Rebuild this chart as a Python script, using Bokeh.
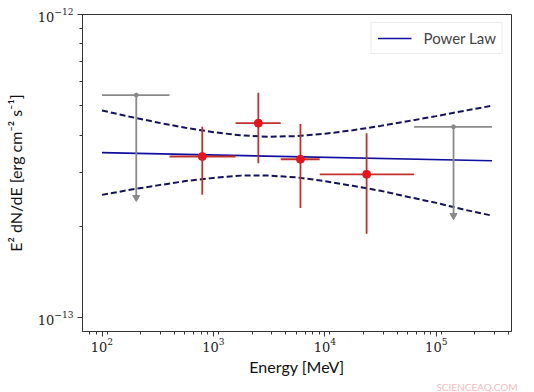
import numpy as np
from bokeh.plotting import figure
from bokeh.models import Range1d, Legend, LegendItem, Title, LogTicker, FixedTicker, LogTickFormatter
from bokeh.embed import file_html
from bokeh.resources import INLINE

# ---- data ----
# spectral points
pt_energy = [794, 2530, 6040, 23700]
pt_flux = [3.40e-13, 4.38e-13, 3.33e-13, 2.97e-13]
pt_e_lo = [404, 1581, 4018, 8990]
pt_e_hi = [1581, 4018, 8990, 63200]
pt_f_lo = [2.54e-13, 3.23e-13, 2.30e-13, 1.89e-13]
pt_f_hi = [4.26e-13, 5.52e-13, 4.35e-13, 4.06e-13]

# upper limits
ul_energy = [203, 142800]
ul_flux = [5.42e-13, 4.26e-13]
ul_e_lo = [100, 63200]
ul_e_hi = [404, 316000]
ul_tip = [2.49e-13, 2.17e-13]

# power-law model line
pl_energy = [100, 316228]
pl_flux = [3.50e-13, 3.29e-13]

# butterfly (model uncertainty band edges)
bf_energy = [100, 178, 316, 562, 1000, 1778, 3162, 5623, 10000, 17783,
             31623, 56234, 100000, 177828, 316228]
bf_upper = [4.82e-13, 4.60e-13, 4.40e-13, 4.23e-13, 4.09e-13, 3.99e-13,
            3.95e-13, 3.97e-13, 4.04e-13, 4.15e-13, 4.29e-13, 4.45e-13,
            4.62e-13, 4.81e-13, 5.00e-13]
bf_lower = [2.54e-13, 2.64e-13, 2.73e-13, 2.82e-13, 2.89e-13, 2.94e-13,
            2.94e-13, 2.90e-13, 2.82e-13, 2.72e-13, 2.62e-13, 2.50e-13,
            2.39e-13, 2.27e-13, 2.17e-13]

y_major = [1e-13, 1e-12]
y_minor = [2e-13, 3e-13, 4e-13, 5e-13, 6e-13, 7e-13, 8e-13, 9e-13]

legend_label = "Power Law"
x_title = "Energy [MeV]"
y_title = "E\u00b2 dN/dE [erg cm\u207b\u00b2 s\u207b\u00b9]"
watermark = "SCIENCEAQ.COM"

# ---- figure ----
p = figure(width=534, height=392, x_axis_type="log", y_axis_type="log",
           output_backend="svg", toolbar_location=None,
           min_border_left=82, min_border_right=23,
           min_border_top=14, min_border_bottom=60)
p.x_range = Range1d(10 ** 1.825, 10 ** 5.675)
p.y_range = Range1d(10 ** -13.046, 1e-12)

p.xgrid.visible = False
p.ygrid.visible = False
p.outline_line_color = "#333333"
p.outline_line_width = 1
p.background_fill_color = "white"
p.border_fill_color = "white"

serif = "DejaVu Serif"
sans = "Lato"
for ax in (p.xaxis[0], p.yaxis[0]):
    ax.axis_line_color = "#333333"
    ax.major_tick_line_color = "#333333"
    ax.minor_tick_line_color = "#333333"
    ax.major_tick_out = 5
    ax.major_tick_in = 0
    ax.minor_tick_out = 3
    ax.minor_tick_in = 0
    ax.major_label_text_font = serif
    ax.major_label_text_font_size = "13px"
    ax.major_label_text_color = "#222222"
    ax.axis_label_text_font = sans
    ax.axis_label_text_font_size = "16px"
    ax.axis_label_text_font_style = "normal"
    ax.axis_label_text_color = "#111111"

p.xaxis.ticker = LogTicker(num_minor_ticks=9)
p.yaxis.ticker = FixedTicker(ticks=y_major, minor_ticks=y_minor)
p.yaxis.formatter = LogTickFormatter()
p.xaxis.axis_label = x_title
p.yaxis.axis_label = y_title
p.xaxis.major_label_standoff = 1
p.xaxis.axis_label_standoff = 2
p.yaxis.major_label_standoff = 4
p.yaxis.axis_label_standoff = 10

# butterfly
navy = "#12125e"
p.line(bf_energy, bf_upper, line_color=navy, line_width=2, line_dash="6 3")
p.line(bf_energy, bf_lower, line_color=navy, line_width=2, line_dash="6 3")

# power law
pl = p.line(pl_energy, pl_flux, line_color="#0f0fa0", line_width=1.6)

# upper limits
gray = "#8a8a8a"
p.segment(x0=ul_e_lo, y0=ul_flux, x1=ul_e_hi, y1=ul_flux, line_color=gray, line_width=1.8)
p.segment(x0=ul_energy, y0=ul_flux, x1=ul_energy, y1=ul_tip, line_color=gray, line_width=1.8)
p.scatter(ul_energy, ul_tip, marker="inverted_triangle", size=7, fill_color=gray, line_color=gray)
p.scatter(ul_energy, ul_flux, marker="circle", size=4, fill_color=gray, line_color=gray)

# spectral points
ebar = "#c2302e"
p.segment(x0=pt_e_lo, y0=pt_flux, x1=pt_e_hi, y1=pt_flux, line_color=ebar, line_width=1.8)
p.segment(x0=pt_energy, y0=pt_f_lo, x1=pt_energy, y1=pt_f_hi, line_color=ebar, line_width=1.8)
p.scatter(pt_energy, pt_flux, marker="circle", size=8, fill_color="#e8141b", line_color="#e8141b")

legend = Legend(items=[LegendItem(label=legend_label, renderers=[pl])],
                location="top_right", margin=8, padding=6, spacing=0,
                glyph_width=34, glyph_height=16,
                label_text_font=sans, label_text_font_size="15px",
                label_standoff=12,
                border_line_color="#d8d8d8", border_line_width=1,
                background_fill_alpha=1.0)
p.add_layout(legend)

wm = Title(text=watermark, align="right", text_font=sans,
           text_font_size="10px", text_font_style="normal",
           text_color="#f0bcbc", offset=-6, standoff=0)
p.add_layout(wm, "below")

open("out.html", "w").write(file_html(p, INLINE))
